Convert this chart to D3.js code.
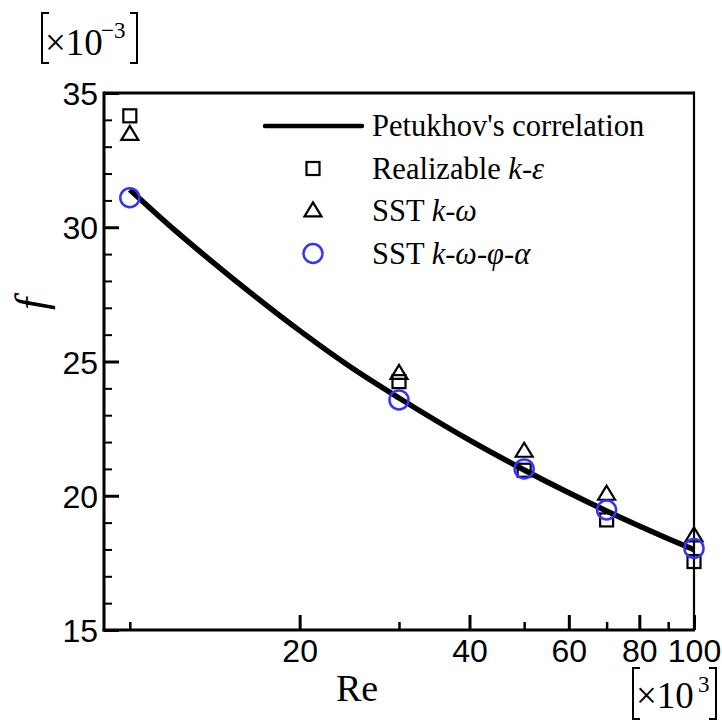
<!DOCTYPE html>
<html><head><meta charset="utf-8">
<script src="https://cdn.jsdelivr.net/npm/d3@7"></script>
<style>body{margin:0;background:#fff}svg{display:block}</style>
</head><body>
<script>
// Data (Re in ×10^3, f in ×10^-3)
const reLine = [10, 12, 15, 20, 25, 30, 40, 50, 60, 70, 80, 90, 100];
const fLine  = [31.4, 29.9, 28.2, 26.15, 24.7, 23.64, 22.07, 20.96, 20.11, 19.43, 18.87, 18.40, 17.99];
const reSim = [10, 30, 50, 70, 100];
const fRealizable = [34.15, 24.25, 20.95, 19.1, 17.55];
const fSST = [33.45, 24.55, 21.65, 20.05, 18.5];
const fSSTphi = [31.1, 23.57, 21.0, 19.47, 18.04];
const xMajorTicks = [20, 40, 60, 80, 100];
const xMinorTicks = [10, 30, 50, 70, 90];
const yMajorTicks = [15, 20, 25, 30, 35];
const legendLabels = ["Petukhov's correlation", "Realizable", "SST", "SST"];

const W = 722, H = 720;
const svg = d3.select("body").append("svg").attr("width", W).attr("height", H);
const L = 104, R = 694, T = 93, B = 630;
const x = d3.scaleLog().domain([9, 100]).range([L, R]);
const y = d3.scaleLinear().domain([15, 35]).range([B, T]);
const sans = "'Liberation Sans', Arial, sans-serif";
const serif = "'Liberation Serif', 'Times New Roman', serif";

// Frame
svg.append("line").attr("x1", L).attr("x2", R).attr("y1", T).attr("y2", T).attr("stroke", "#000").attr("stroke-width", 3);
svg.append("line").attr("x1", R).attr("x2", R).attr("y1", T-1.5).attr("y2", B).attr("stroke", "#000").attr("stroke-width", 2.2);

// Y axis
const yMinor = d3.range(15, 36, 1).filter(v => v % 5 !== 0);
const yAxis = d3.axisLeft(y).tickValues(yMajorTicks).tickSize(-15).tickPadding(22).tickFormat(d3.format("d"));
const gy = svg.append("g").attr("transform", `translate(${L},0)`).call(yAxis);
gy.select(".domain").attr("stroke-width", 3).attr("d", `M0,${T-1.5}V${B+1.5}`);
gy.selectAll(".tick line").attr("stroke-width", 3);
gy.selectAll(".tick text").attr("font-family", sans).attr("font-size", 32).attr("fill", "#000").attr("x", -6).attr("dy", "0.36em");
const gym = svg.append("g").attr("transform", `translate(${L},0)`)
  .call(d3.axisLeft(y).tickValues(yMinor).tickSize(-8).tickFormat(""));
gym.select(".domain").remove();
gym.selectAll(".tick line").attr("stroke-width", 2);

// X axis
const xAxis = d3.axisBottom(x).tickValues(xMajorTicks).tickSize(-15).tickPadding(0).tickFormat(d3.format("d"));
const gx = svg.append("g").attr("transform", `translate(0,${B})`).call(xAxis);
gx.select(".domain").attr("stroke-width", 3).attr("d", `M${L-1.5},0H${R+1}`);
gx.selectAll(".tick line").attr("stroke-width", 3);
gx.selectAll(".tick text").attr("font-family", sans).attr("font-size", 32).attr("fill", "#000").attr("y", 32).attr("dy", 0);
const gxm = svg.append("g").attr("transform", `translate(0,${B})`)
  .call(d3.axisBottom(x).tickValues(xMinorTicks).tickSize(-8).tickFormat(""));
gxm.select(".domain").remove();
gxm.selectAll(".tick line").attr("stroke-width", 2.5);

// Curve
const line = d3.line().x(d => x(d[0])).y(d => y(d[1])).curve(d3.curveMonotoneX);
svg.append("path").datum(reLine.map((r, i) => [r, fLine[i]]))
  .attr("d", line).attr("fill", "none").attr("stroke", "#000").attr("stroke-width", 5.5);

// Markers
const sq = 13, triW = 17, triH = 14, cr = 9.5;
function square(g, cx, cy) {
  g.append("rect").attr("x", cx - sq/2).attr("y", cy - sq/2).attr("width", sq).attr("height", sq)
    .attr("fill", "none").attr("stroke", "#000").attr("stroke-width", 2.2);
}
function triangle(g, cx, cy) {
  g.append("path").attr("d", `M${cx},${cy - triH*0.62}L${cx + triW/2},${cy + triH*0.38}L${cx - triW/2},${cy + triH*0.38}Z`)
    .attr("fill", "none").attr("stroke", "#000").attr("stroke-width", 2.2).attr("stroke-linejoin", "miter");
}
function circle(g, cx, cy) {
  g.append("circle").attr("cx", cx).attr("cy", cy).attr("r", cr)
    .attr("fill", "none").attr("stroke", "#3333ff").attr("stroke-width", 2.5);
}
const gm = svg.append("g");
reSim.forEach((r, i) => square(gm, x(r), y(fRealizable[i])));
reSim.forEach((r, i) => triangle(gm, x(r), y(fSST[i])));
reSim.forEach((r, i) => circle(gm, x(r), y(fSSTphi[i])));

// Legend
const lg = svg.append("g");
const rows = [126, 168.5, 211, 253.5];
lg.append("line").attr("x1", 265).attr("x2", 362).attr("y1", rows[0]).attr("y2", rows[0])
  .attr("stroke", "#000").attr("stroke-width", 4.5).attr("stroke-linecap", "round");
square(lg, 313, rows[1]);
triangle(lg, 313, rows[2]);
circle(lg, 313, rows[3]);
const tx = 372;
function ltext(yy) {
  return lg.append("text").attr("x", tx).attr("y", yy + 10).attr("font-family", serif).attr("font-size", 30.5).attr("fill", "#000");
}
ltext(rows[0]).text(legendLabels[0]);
const t2 = ltext(rows[1]);
t2.append("tspan").text(legendLabels[1] + " ");
t2.append("tspan").attr("font-style", "italic").text("k");
t2.append("tspan").text("-");
t2.append("tspan").attr("font-style", "italic").text("ε");
const t3 = ltext(rows[2]);
t3.append("tspan").text(legendLabels[2] + " ");
t3.append("tspan").attr("font-style", "italic").text("k");
t3.append("tspan").text("-");
t3.append("tspan").attr("font-style", "italic").text("ω");
const t4 = ltext(rows[3]);
t4.append("tspan").text(legendLabels[3] + " ");
t4.append("tspan").attr("font-style", "italic").text("k");
t4.append("tspan").text("-");
t4.append("tspan").attr("font-style", "italic").text("ω");
t4.append("tspan").text("-");
t4.append("tspan").attr("font-style", "italic").text("φ");
t4.append("tspan").text("-");
t4.append("tspan").attr("font-style", "italic").text("α");

// Axis titles
svg.append("text").attr("x", 357).attr("y", 701).attr("text-anchor", "middle")
  .attr("font-family", serif).attr("font-size", 38).attr("fill", "#000").text("Re");
const fg = svg.append("g").attr("transform", "translate(33,304) rotate(-90)");
fg.append("text").attr("x", 0).attr("y", 0).attr("text-anchor", "middle")
  .attr("dy", "0.3em")
  .attr("font-family", serif).attr("font-size", 44).attr("font-style", "italic").attr("fill", "#000").text("f");

// Multiplier labels
function bracketLabel(x0, x1, top, bot, base, exp, textX, supX, supY) {
  const g = svg.append("g");
  g.append("path").attr("d", `M${x0 + 7},${top}H${x0}V${bot}H${x0 + 7}`).attr("fill", "none").attr("stroke", "#000").attr("stroke-width", 2);
  g.append("path").attr("d", `M${x1 - 7},${top}H${x1}V${bot}H${x1 - 7}`).attr("fill", "none").attr("stroke", "#000").attr("stroke-width", 2);
  g.append("text").attr("x", textX).attr("y", base).attr("font-family", serif).attr("font-size", 37).attr("fill", "#000").text("×10");
  g.append("text").attr("x", supX).attr("y", supY).attr("font-family", serif).attr("font-size", 23).attr("fill", "#000").text(exp);
}
bracketLabel(42, 137, 13, 63, 55, "−3", 45, 101, 38);
bracketLabel(633, 716, 668, 719, 708, "3", 636, 698, 692);
</script>
</body></html>
